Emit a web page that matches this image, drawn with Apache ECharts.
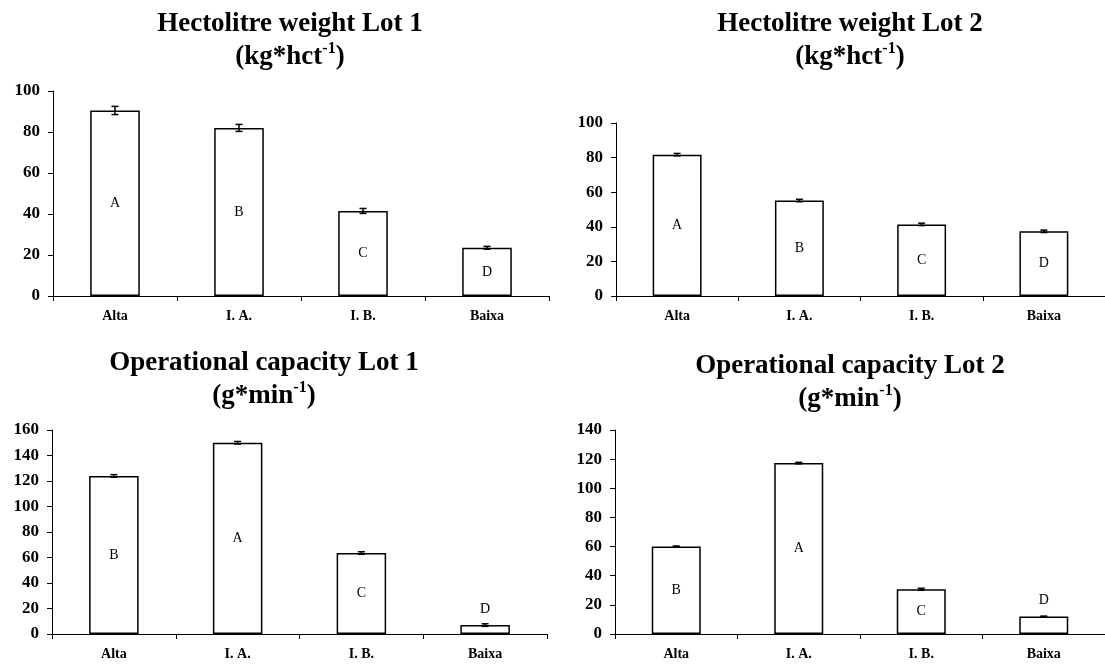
<!DOCTYPE html>
<html lang="en">
<head>
    <meta charset="UTF-8">
    <title>Hectolitre weight and operational capacity</title>
    <style>
        body { margin: 0; background: #fff; }
        #chart { width: 1105px; height: 664px; }
    </style>
    <script src="https://cdn.jsdelivr.net/npm/echarts@6/dist/echarts.min.js"></script>
</head>
<body>
<div id="chart"></div>
<script>
    // Data
    var categories = ['Alta', 'I. A.', 'I. B.', 'Baixa'];

    var hlLot1 = [90.5, 82, 41.5, 23.5];
    var hlLot1Err = [2, 1.7, 1.2, 0.7];
    var hlLot1Letters = ['A', 'B', 'C', 'D'];

    var hlLot2 = [81.7, 55.2, 41.4, 37.4];
    var hlLot2Err = [0.7, 0.7, 0.7, 0.7];
    var hlLot2Letters = ['A', 'B', 'C', 'D'];

    var ocLot1 = [124, 150, 63.5, 7];
    var ocLot1Err = [1, 1, 1, 1];
    var ocLot1Letters = ['B', 'A', 'C', 'D'];

    var ocLot2 = [60, 117.3, 30.7, 12];
    var ocLot2Err = [0.4, 0.5, 0.7, 0.3];
    var ocLot2Letters = ['B', 'A', 'C', 'D'];

    var font = "'Liberation Serif', 'Times New Roman', serif";

    var panels = [
        { title: 'Hectolitre weight Lot 1\n(kg*hct{sup|-1})', vals: hlLot1, err: hlLot1Err, letters: hlLot1Letters, max: 100,
          grid: { left: 53, top: 91, width: 496, height: 205 }, tx: 290, ty: 8 },
        { title: 'Hectolitre weight Lot 2\n(kg*hct{sup|-1})', vals: hlLot2, err: hlLot2Err, letters: hlLot2Letters, max: 100,
          grid: { left: 616, top: 123, width: 496, height: 173 }, tx: 850, ty: 8 },
        { title: 'Operational capacity Lot 1\n(g*min{sup|-1})', vals: ocLot1, err: ocLot1Err, letters: ocLot1Letters, max: 160,
          grid: { left: 52, top: 430, width: 495, height: 204 }, tx: 264, ty: 347 },
        { title: 'Operational capacity Lot 2\n(g*min{sup|-1})', vals: ocLot2, err: ocLot2Err, letters: ocLot2Letters, max: 140,
          grid: { left: 615, top: 430, width: 496, height: 204 }, tx: 850, ty: 350 }
    ];

    var option = { animation: false, backgroundColor: '#fff', title: [], grid: [], xAxis: [], yAxis: [], series: [] };

    panels.forEach(function (p, i) {
        option.title.push({
            text: p.title,
            left: p.tx,
            top: p.ty,
            padding: 0,
            textAlign: 'center',
            textStyle: {
                fontFamily: font, fontSize: 27, fontWeight: 'bold', color: '#000', lineHeight: 33,
                rich: {
                    sup: { fontFamily: font, fontSize: 16, fontWeight: 'bold', color: '#000', verticalAlign: 'top', lineHeight: 22, padding: [0, 0, 11, 0] }
                }
            }
        });
        option.grid.push(p.grid);
        option.xAxis.push({
            type: 'category', gridIndex: i, data: categories,
            axisLine: { lineStyle: { color: '#000', width: 1 } },
            axisTick: { show: true, length: 5, lineStyle: { color: '#000' } },
            axisLabel: { fontFamily: font, fontSize: 14, fontWeight: 'bold', color: '#000', margin: 13 }
        });
        option.yAxis.push({
            type: 'value', gridIndex: i, min: 0, max: p.max, interval: 20,
            axisLine: { show: true, lineStyle: { color: '#000', width: 1 } },
            axisTick: { show: true, length: 5, lineStyle: { color: '#000' } },
            splitLine: { show: false },
            axisLabel: { fontFamily: font, fontSize: 17, fontWeight: 'bold', color: '#000', margin: 13 }
        });
        option.series.push({
            type: 'bar', xAxisIndex: i, yAxisIndex: i, barWidth: '40%',
            itemStyle: { color: '#fff', borderColor: '#000', borderWidth: 1.5 },
            label: {
                show: true, position: 'inside', color: '#000',
                fontFamily: font, fontSize: 14,
                formatter: function (d) { return p.letters[d.dataIndex]; }
            },
            data: p.vals.map(function (v) {
                // small bars carry their letter above the bar
                if (v < p.max * 0.1) {
                    return { value: v, label: { position: 'top', distance: 9 } };
                }
                return v;
            })
        });
        option.series.push({
            type: 'custom', xAxisIndex: i, yAxisIndex: i, z: 5,
            data: p.vals.map(function (v, k) { return [k, v, p.err[k]]; }),
            renderItem: function (params, api) {
                var x = api.value(0), v = api.value(1), e = api.value(2);
                var hi = api.coord([x, v + e]);
                var lo = api.coord([x, v - e]);
                var w = 3.5;
                var style = { stroke: '#000', lineWidth: 1.5 };
                return {
                    type: 'group',
                    children: [
                        { type: 'line', shape: { x1: hi[0], y1: hi[1], x2: lo[0], y2: lo[1] }, style: style },
                        { type: 'line', shape: { x1: hi[0] - w, y1: hi[1], x2: hi[0] + w, y2: hi[1] }, style: style },
                        { type: 'line', shape: { x1: lo[0] - w, y1: lo[1], x2: lo[0] + w, y2: lo[1] }, style: style }
                    ]
                };
            }
        });
    });

    var chart = echarts.init(document.getElementById('chart'));
    chart.setOption(option);
</script>
</body>
</html>
